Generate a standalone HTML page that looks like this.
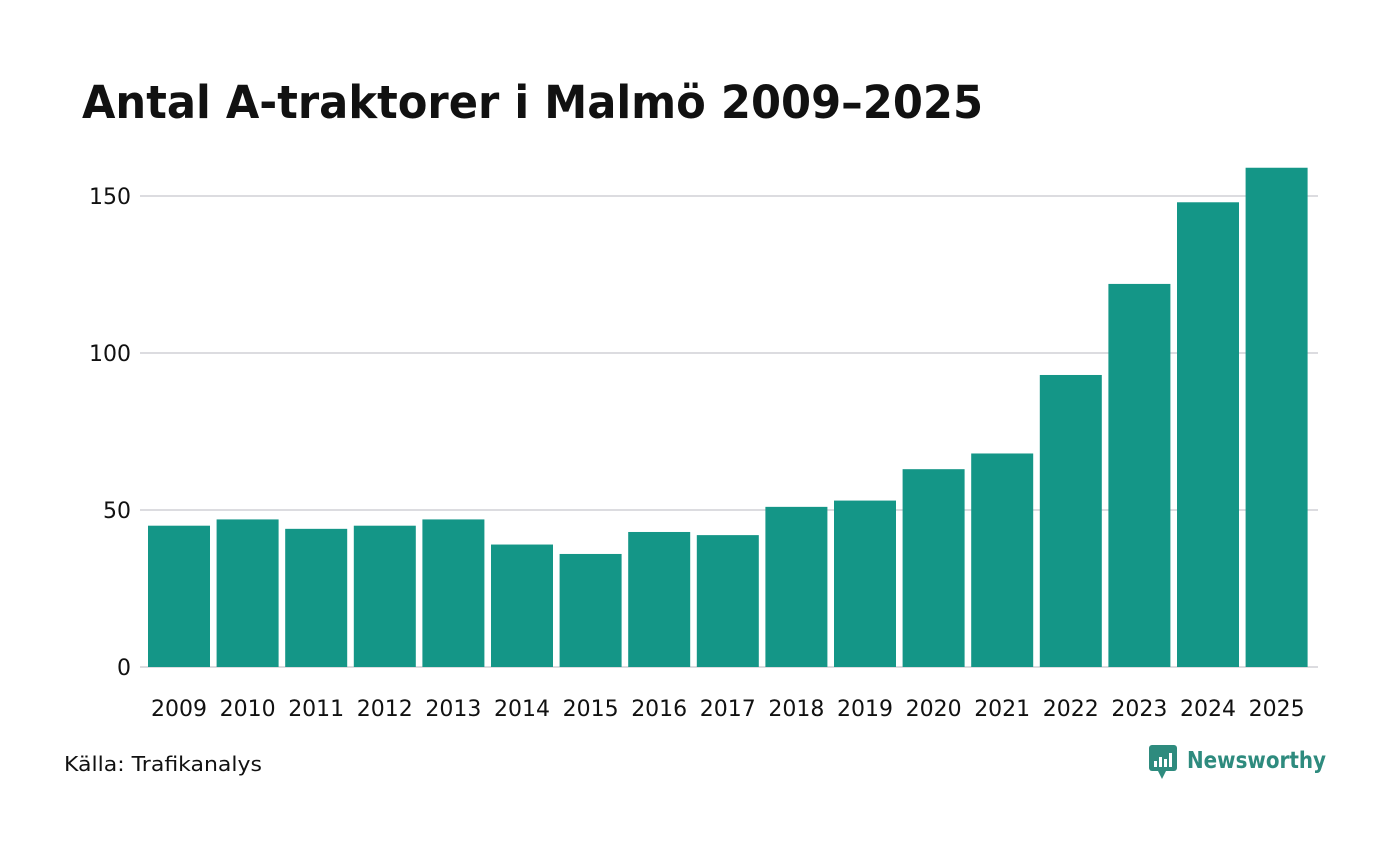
<!DOCTYPE html>
<html><head><meta charset="utf-8"><style>
body{margin:0;background:#fff;font-family:"DejaVu Sans","Liberation Sans",sans-serif;}
</style></head><body>
<svg width="1400" height="840" xmlns="http://www.w3.org/2000/svg" font-family="DejaVu Sans, Liberation Sans, sans-serif">
<text x="82" y="118" font-size="45" font-weight="bold" fill="#111" textLength="901" lengthAdjust="spacingAndGlyphs">Antal A-traktorer i Malmö 2009–2025</text>
<g id="grid"></g>
<g id="bars"></g>
<g id="xl"></g>
<text x="64" y="771" font-size="20" fill="#111" textLength="198" lengthAdjust="spacingAndGlyphs">Källa: Trafikanalys</text>
<g>
<rect x="1149" y="745" width="28" height="26" rx="3" fill="#2e8b7e"/>
<polygon points="1158,771 1166,771 1162,779" fill="#2e8b7e"/>
<rect x="1154" y="761" width="3" height="6" fill="#fff"/><rect x="1159" y="757" width="3" height="10" fill="#fff"/><rect x="1164" y="759" width="3" height="8" fill="#fff"/><rect x="1169" y="753" width="3" height="14" fill="#fff"/>
<text x="1187" y="768" font-size="23" font-weight="bold" fill="#2e8b7e" textLength="139" lengthAdjust="spacingAndGlyphs">Newsworthy</text>
</g>
</svg>
<script>
const years=["2009","2010","2011","2012","2013","2014","2015","2016","2017","2018","2019","2020","2021","2022","2023","2024","2025"];
const values=[45,47,44,45,47,39,36,43,42,51,53,63,68,93,122,148,159];
const ticks=[0,50,100,150];
const ns="http://www.w3.org/2000/svg";
const x0=144.5,x1=1318,y0=667,pxPer=471/150;
const band=68.6;
const y=v=>y0-v*pxPer;
const grid=document.getElementById('grid'),bars=document.getElementById('bars'),xl=document.getElementById('xl');
ticks.forEach(t=>{
 const l=document.createElementNS(ns,'line');
 l.setAttribute('x1',140);l.setAttribute('x2',x1);l.setAttribute('y1',y(t));l.setAttribute('y2',y(t));
 l.setAttribute('stroke','#dcdce0');l.setAttribute('stroke-width','2');
 
 
 grid.appendChild(l);
 const tx=document.createElementNS(ns,'text');
 tx.setAttribute('x',131);tx.setAttribute('y',y(t)+8);tx.setAttribute('text-anchor','end');
 tx.setAttribute('font-size','22');tx.setAttribute('fill','#111');tx.textContent=t;
 
 
 grid.appendChild(tx);
});
years.forEach((yr,i)=>{
 const bx=x0+i*band+3.5,bw=62;
 const r=document.createElementNS(ns,'rect');
 r.setAttribute('x',bx);r.setAttribute('width',bw);r.setAttribute('y',y(values[i]));r.setAttribute('height',y0-y(values[i]));
 r.setAttribute('fill','#149687');
 
 
 bars.appendChild(r);
 const t=document.createElementNS(ns,'text');
 t.setAttribute('x',bx+bw/2);t.setAttribute('y',716);t.setAttribute('text-anchor','middle');
 t.setAttribute('font-size','22');t.setAttribute('fill','#111');t.textContent=yr;
 
 
 xl.appendChild(t);
});
</script>
</body></html>
